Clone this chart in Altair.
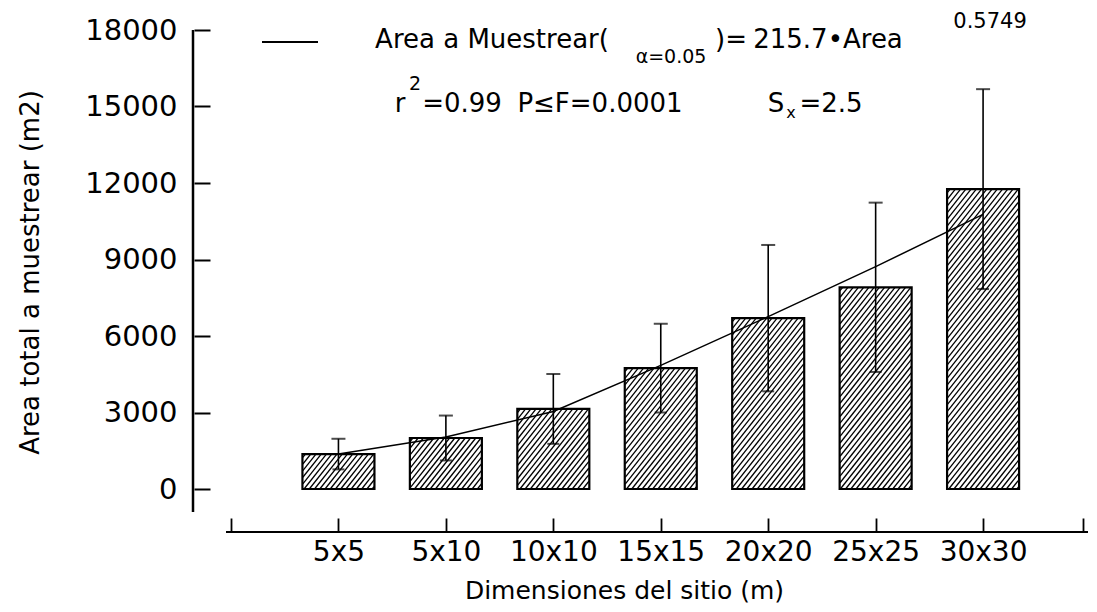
import altair as alt
import pandas as pd

# ---- data ----
categories = ["5x5", "5x10", "10x10", "15x15", "20x20", "25x25", "30x30"]
mean_area = [1370, 2000, 3140, 4740, 6700, 7910, 11760]
err_area = [600, 880, 1370, 1740, 2870, 3320, 3920]
fitted_area = [1370, 2040, 3040, 4850, 6760, 8720, 10770]
y_ticks = [0, 3000, 6000, 9000, 12000, 15000, 18000]

# ---- layout ----
W, H = 862, 459
X_MAX = 7.93
Y_MAX = 18000
BAR_PX = 72
FONT = "DejaVu Sans"

pos = list(range(1, len(categories) + 1))
df = pd.DataFrame({"pos": pos, "cat": categories, "mean": mean_area,
                   "err": err_area, "fit": fitted_area})
df["lo"] = df["mean"] - df["err"]
df["hi"] = df["mean"] + df["err"]

# hatch pattern segments (diagonal lines clipped to each bar)
px_x = W / X_MAX
px_y = H / Y_MAX
spacing = 5.3
slope = 1.25
half = BAR_PX / 2
hatch = []
for p, m in zip(pos, mean_area):
    h = m * px_y
    x0 = -half - h / slope + spacing / 2
    while x0 < half:
        xa = max(-half, x0)
        xb = min(half, x0 + h / slope)
        if xb - xa > 0.3:
            hatch.append({
                "x1": p + xa / px_x, "y1": slope * (xa - x0) / px_y,
                "x2": p + xb / px_x, "y2": slope * (xb - x0) / px_y,
            })
        x0 += spacing
hatch_df = pd.DataFrame(hatch)

xscale = alt.Scale(domain=[0, X_MAX], nice=False, zero=False)
yscale = alt.Scale(domain=[0, Y_MAX], nice=False)

lab_arr = "[" + ",".join("'%s'" % c for c in [""] + categories) + "]"
x_axis = alt.Axis(
    values=list(range(0, 8)) + [X_MAX],
    labelExpr="datum.value >= 1 && datum.value <= %d ? %s[round(datum.value)] : ''" % (len(categories), lab_arr),
    domain=False, grid=False, tickSize=14, tickWidth=1.8, tickColor="black",
    offset=29, labelPadding=6, labelFontSize=28, labelFont=FONT, labelColor="black",
    labelFlush=False, labelOverlap=False,
    title="Dimensiones del sitio (m)", titleFont=FONT, titleFontSize=25,
    titleFontWeight="normal", titleColor="black",
    titleX=398, titleY=72, titleBaseline="middle",
)
y_axis = alt.Axis(
    values=y_ticks, format="d", domain=False, grid=False, tickSize=16, tickWidth=2,
    tickColor="black", offset=16, labelPadding=17, labelFontSize=29,
    labelFont=FONT, labelColor="black", labelFlush=False,
    title="Area total a muestrear (m2)", titleFont=FONT, titleFontSize=26,
    titleFontWeight="normal", titleColor="black",
    titleX=-180, titleY=242, titleBaseline="middle",
)

base = alt.Chart(df)
X = alt.X("pos:Q", scale=xscale, axis=x_axis)
Y = alt.Y("mean:Q", scale=yscale, axis=y_axis)

bars = base.mark_bar(size=BAR_PX, fill="white", stroke=None).encode(x=X, y=Y)
hatch_layer = alt.Chart(hatch_df).mark_rule(color="black", strokeWidth=1.3).encode(
    x=alt.X("x1:Q", scale=xscale, axis=x_axis),
    y=alt.Y("y1:Q", scale=yscale, axis=y_axis),
    x2="x2:Q", y2="y2:Q",
)
outline = base.mark_bar(size=BAR_PX, fillOpacity=0, stroke="black", strokeWidth=2.2).encode(x=X, y=Y)
err_rule = base.mark_rule(color="black", strokeWidth=1.6).encode(
    x=X, y=alt.Y("lo:Q", scale=yscale, axis=y_axis), y2="hi:Q")
cap_hi = base.mark_tick(orient="horizontal", size=14, thickness=2, color="black").encode(
    x=X, y=alt.Y("hi:Q", scale=yscale, axis=y_axis))
cap_lo = base.mark_tick(orient="horizontal", size=12, thickness=2, color="black").encode(
    x=X, y=alt.Y("lo:Q", scale=yscale, axis=y_axis))
fit_line = base.mark_line(color="black", strokeWidth=1.5).encode(
    x=X, y=alt.Y("fit:Q", scale=yscale, axis=y_axis))

one = pd.DataFrame({"k": [0]})
dom_y = alt.Chart(one).mark_rule(color="black", strokeWidth=2.5).encode(
    x=alt.value(-33), y=alt.value(0), y2=alt.value(H + 23))
dom_x = alt.Chart(one).mark_rule(color="black", strokeWidth=2).encode(
    x=alt.value(0), x2=alt.value(W), y=alt.value(H + 43))
legend_line = alt.Chart(one).mark_rule(color="black", strokeWidth=2).encode(
    x=alt.value(36), x2=alt.value(92), y=alt.value(12))

L, T = 226, 30  # plot origin in page pixels


def txt(s, cx, cy, size):
    """Centered text piece, cx/cy given in page pixels."""
    return alt.Chart(one).mark_text(
        text=s, align="center", baseline="middle", font=FONT, fontSize=size, color="black"
    ).encode(x=alt.value(cx - L), y=alt.value(cy - T))


texts = [
    txt("Area a Muestrear(", 492, 40, 26),
    txt("α=0.05", 671, 57, 19),
    txt(")=", 731, 40, 26),
    txt("215.7•Area", 828, 40, 26),
    txt("0.5749", 990, 22, 21),
    txt("r", 400, 104, 26),
    txt("2", 415, 84, 19),
    txt("=0.99", 462, 104, 26),
    txt("P≤F=0.0001", 600, 104, 26),
    txt("S", 776, 104, 26),
    txt("x", 791, 113, 16),
    txt("=2.5", 831, 104, 26),
]

chart = alt.layer(
    bars, hatch_layer, outline, err_rule, cap_hi, cap_lo, fit_line,
    dom_y, dom_x, legend_line, *texts
).properties(
    width=W, height=H,
    padding={"left": 218, "top": 22, "right": 0, "bottom": 115},
    autosize=alt.AutoSizeParams(type="none"),
    background="white",
).configure_view(stroke=None)

chart.save("out.html", embed_options={"renderer": "svg", "actions": False})
